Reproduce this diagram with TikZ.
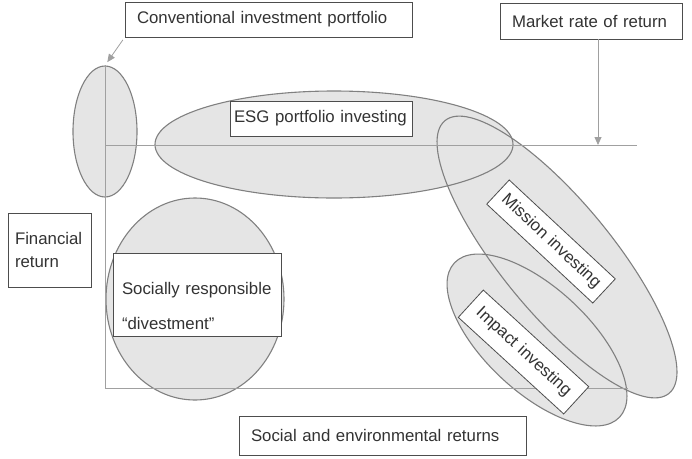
\documentclass[tikz,border=0pt]{standalone}
\usepackage{fontspec}
\setmainfont{Liberation Sans}
\usetikzlibrary{arrows.meta,shapes.geometric}

\definecolor{bubblefill}{HTML}{E5E5E5}
\definecolor{rimgray}{HTML}{808080}
\definecolor{axisgray}{HTML}{A0A0A0}
\definecolor{inkgray}{HTML}{333333}
\definecolor{boxline}{HTML}{4D4D4D}

\tikzset{
  blobfill/.style={ellipse, fill=bubblefill, inner sep=0pt},
  blobline/.style={ellipse, draw=rimgray, line width=1.1pt, inner sep=0pt},
  labelbox/.style={draw=boxline, fill=white, line width=0.8pt, text=inkgray,
    inner xsep=12pt, inner ysep=0pt, align=left,
    font=\fontsize{16.8}{22.6}\selectfont},
  axis/.style={draw=axisgray, line width=1pt},
  pointer/.style={draw=axisgray, line width=0.8pt, ->}
}

% the five regions, drawn once for the fill and once for the rim
\newcommand{\regions}[1]{%
  \node[#1, minimum width=64pt, minimum height=131pt] (cip) at (105,-131.5) {};
  \node[#1, minimum width=358pt, minimum height=107pt] (esg) at (334,-144.5) {};
  \node[#1, minimum width=178pt, minimum height=202pt] (sri) at (195,-299) {};
  \node[#1, minimum width=353pt, minimum height=111pt, rotate=-50.6] (mis) at (557,-257) {};
  \node[#1, minimum width=226pt, minimum height=104pt, rotate=-43] (imp) at (537,-340) {};
}

\begin{document}
\begin{tikzpicture}[x=1pt,y=1pt,>={Triangle[length=8pt,width=7pt]}]
\useasboundingbox (0,0) rectangle (692,-458);

\regions{blobfill}
\regions{blobline}

% axes and the market line
\coordinate (origin) at (105,-388);
\coordinate (xend) at (628,-388);
\coordinate (mstart) at (105,-145);
\coordinate (mend) at (637,-145);
\coordinate (mrr) at (598,-145);
\path[axis] (cip.north) -- (origin) -- (xend);
\path[axis] (mstart) -- (mend);

% labels
\node[labelbox, text width=263pt, minimum height=35pt] (conv) at (268.5,-19.5) {Conventional investment portfolio};
\node[labelbox, text width=158pt, minimum height=36pt] (mkt) at (591,-21) {Market rate of return};
\node[labelbox, inner xsep=4pt, text width=174pt, minimum height=35pt] (esgl) at (321,-118.5) {ESG portfolio investing};
\node[labelbox, inner xsep=7pt, text width=69pt, minimum height=74pt] (fin) at (49.5,-250) {Financial\\return};
\node[labelbox, inner xsep=9pt, text width=150pt, minimum height=83pt, text depth=12pt] (sr) at (197,-294.5) {Socially responsible\\[12.4pt]“divestment”};
\node[labelbox, text width=263pt, minimum height=39pt] (ser) at (382.5,-435.5) {Social and environmental returns};
\node[labelbox, inner xsep=8pt, text width=129pt, minimum height=33pt, align=center, rotate=-43] (misl) at (551,-241.5) {Mission investing};
\node[labelbox, inner xsep=8pt, text width=127pt, minimum height=37pt, align=center, rotate=-42.5] (impl) at (523.5,-352) {Impact investing};

% pointers
\path[pointer, shorten <=3pt, shorten >=4pt] (conv.south west) -- (cip.north);
\path[pointer] (mkt.south -| mrr) -- (mrr);

\end{tikzpicture}
\end{document}
